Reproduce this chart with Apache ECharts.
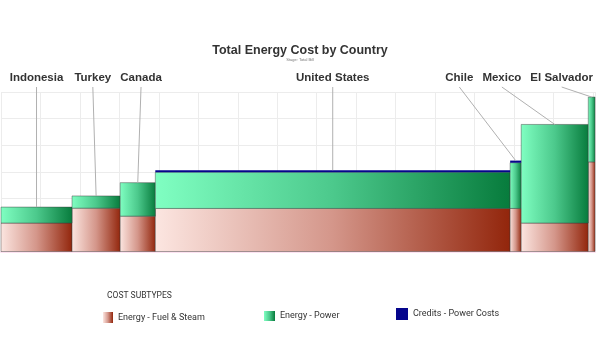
<!DOCTYPE html>
<html><head><meta charset="utf-8">
<script src="https://cdn.jsdelivr.net/npm/echarts@6/dist/echarts.min.js"></script>
<style>html,body{margin:0;padding:0;background:#fff}#c{width:600px;height:363px}</style>
</head><body><div id="c"></div>
<script>
// ---- data ----
const countries = ['Indonesia', 'Turkey', 'Canada', 'United States', 'Chile', 'Mexico', 'El Salvador'];
const widths = [1.80, 1.22, 0.89, 8.99, 0.28, 1.70, 0.17];
const fuelSteam = [1.07, 1.63, 1.33, 1.62, 1.62, 1.07, 3.37];
const power = [0.60, 0.46, 1.26, 1.36, 1.72, 3.71, 2.44];
const credits = [0, 0, 0, 0.08, 0.08, 0, 0];
const seriesNames = ['Energy - Fuel & Steam', 'Energy - Power', 'Credits - Power Costs'];
const legendTitle = 'COST SUBTYPES';
const titleText = 'Total Energy Cost by Country';
const subtitleText = 'Stage: Total Bill';

// ---- derived ----
const starts = [], ends = [];
let acc = 0;
widths.forEach(w => { starts.push(acc); acc += w; ends.push(acc); });
const total = acc;

const G = echarts.graphic.LinearGradient;
const fuelGrad = () => new G(0, 0, 1, 0, [{offset: 0, color: '#fce6e1'}, {offset: 0.5, color: '#d4968a'}, {offset: 1, color: '#92250b'}]);
const powerGrad = () => new G(0, 0, 1, 0, [{offset: 0, color: '#80ffc2'}, {offset: 0.5, color: '#4cc98c'}, {offset: 1, color: '#077b3c'}]);
const fillFor = [fuelGrad, powerGrad, () => '#05058c'];

const stackBase = countries.map(() => 0);
const layers = [fuelSteam, power, credits].map(vals => vals.map((v, i) => {
  const b = stackBase[i];
  stackBase[i] += v;
  return [starts[i], ends[i], b, b + v];
}));
const tops = stackBase.slice();

function barRenderer(k) {
  return function (params, api) {
    const x0 = api.value(0), x1 = api.value(1), b = api.value(2), t = api.value(3);
    if (t - b <= 0) return null;
    const p0 = api.coord([x0, t]), p1 = api.coord([x1, b]);
    return {
      type: 'rect',
      shape: {x: p0[0], y: p0[1], width: p1[0] - p0[0], height: p1[1] - p0[1]},
      style: k === 2 ? {fill: fillFor[k]()} : {fill: fillFor[k](), stroke: 'rgba(60,60,60,0.45)', lineWidth: 1}
    };
  };
}

const LABEL_FONT = 'bold 11.5px "Liberation Sans", Arial, sans-serif';
const mctx = document.createElement('canvas').getContext('2d');
mctx.font = LABEL_FONT;
function layoutLabels(api) {
  const items = countries.map((c, i) => {
    const cx = api.coord([(starts[i] + ends[i]) / 2, 0])[0];
    return {cx: cx, x: cx, w: mctx.measureText(c).width};
  });
  const gap = 9, minX = 4, maxX = 593;
  for (let it = 0; it < 300; it++) {
    for (let i = 0; i < items.length - 1; i++) {
      const a = items[i], b = items[i + 1];
      const ov = (a.x + a.w / 2 + gap) - (b.x - b.w / 2);
      if (ov > 0) { a.x -= ov / 2; b.x += ov / 2; }
    }
    items.forEach(o => {
      if (o.x - o.w / 2 < minX) o.x = minX + o.w / 2;
      if (o.x + o.w / 2 > maxX) o.x = maxX - o.w / 2;
    });
  }
  return items;
}

function labelRenderer(params, api) {
  const i = params.dataIndex;
  const lay = layoutLabels(api)[i];
  const topPt = api.coord([(starts[i] + ends[i]) / 2, tops[i]]);
  return {
    type: 'group',
    children: [
      {type: 'line', shape: {x1: lay.x, y1: 87, x2: topPt[0], y2: topPt[1]}, style: {stroke: '#b0b0b0', lineWidth: 1}},
      {type: 'text', style: {text: countries[i], x: lay.x, y: 77.5, align: 'center', verticalAlign: 'middle', font: LABEL_FONT, fill: '#333'}}
    ]
  };
}

const chart = echarts.init(document.getElementById('c'), null, {renderer: 'canvas'});
const legendText = {fontSize: 9, color: '#333', fontFamily: 'Roboto'};
chart.setOption({
  animation: false,
  title: [
    {text: titleText, left: 'center', top: 44, padding: 0, textStyle: {fontSize: 12.5, fontWeight: 'bold', color: '#333', fontFamily: '"Liberation Sans", Arial'}},
    {text: subtitleText, left: 'center', top: 58, padding: 0, textStyle: {fontSize: 4, fontWeight: 'normal', color: '#777'}},
    {text: legendTitle, left: 107, top: 291, padding: 0, textStyle: {fontSize: 8.5, fontWeight: 'normal', color: '#333', fontFamily: 'Roboto'}}
  ],
  legend: [
    {data: [seriesNames[0]], left: 103, top: 312, padding: 0, icon: 'rect', itemWidth: 10, itemHeight: 11, textStyle: legendText},
    {data: [seriesNames[1]], left: 264, top: 311, padding: 0, icon: 'rect', itemWidth: 11, itemHeight: 10, textStyle: legendText},
    {data: [seriesNames[2]], left: 396, top: 308, padding: 0, icon: 'rect', itemWidth: 12, itemHeight: 12, textStyle: legendText}
  ],
  grid: {left: 1, right: 5, top: 92, bottom: 111.5},
  xAxis: {
    type: 'value', min: 0, max: total, interval: 1,
    axisLabel: {show: false}, axisTick: {show: false},
    axisLine: {show: true, lineStyle: {color: '#fde2f1', width: 2}},
    splitLine: {show: true, lineStyle: {color: '#ececec'}}
  },
  yAxis: {
    type: 'value', min: 0, max: 6, interval: 1,
    axisLabel: {show: false}, axisTick: {show: false}, axisLine: {show: false},
    splitLine: {show: true, lineStyle: {color: '#ececec'}}
  },
  series: [
    {name: seriesNames[0], type: 'custom', renderItem: barRenderer(0), data: layers[0], itemStyle: {color: fuelGrad()}, encode: {x: [0, 1], y: [2, 3]}},
    {name: seriesNames[1], type: 'custom', renderItem: barRenderer(1), data: layers[1], itemStyle: {color: powerGrad()}, encode: {x: [0, 1], y: [2, 3]}},
    {name: seriesNames[2], type: 'custom', renderItem: barRenderer(2), data: layers[2], itemStyle: {color: '#05058c'}, encode: {x: [0, 1], y: [2, 3]}},
    {name: 'labels', type: 'custom', renderItem: labelRenderer, data: countries.map((c, i) => [i]), silent: true, z: 5}
  ]
});
</script></body></html>
